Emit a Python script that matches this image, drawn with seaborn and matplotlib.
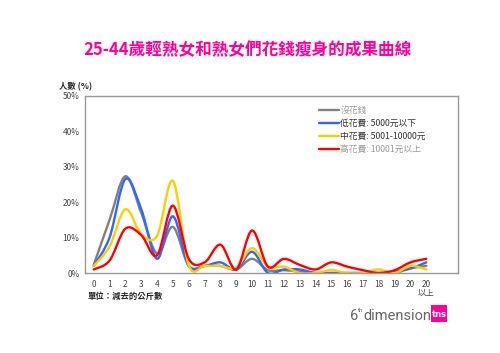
import numpy as np
import pandas as pd
import seaborn as sns
import matplotlib.pyplot as plt
from matplotlib.path import Path
from matplotlib.patches import PathPatch, Rectangle

# categories (kg lost)
categories = [str(i) for i in range(21)] + ['20\n以上']

# percentages
none_spent = [2.3, 15, 27.3, 17, 5.5, 13, 2, 2, 2, 1, 4, 0.8, 0.8, 0.4, 0, 0, 0, 0, 0, 0, 1.3, 2]
low_spent = [2, 10, 26.5, 18, 4, 16, 2, 2, 3, 1, 6, 0, 1, 1, 0, 0, 0, 0, 0, 0.4, 1.3, 3]
mid_spent = [2, 7.5, 18, 11, 10.5, 26, 2.2, 2, 2, 1.5, 7, 1.8, 1.8, 0, 0, 0.8, 0, 0, 1, 0, 2, 1]
high_spent = [1, 3.5, 12.5, 10.7, 5, 19, 4, 3, 8, 1, 12, 1.8, 4, 2.3, 1, 3, 1.8, 0.8, 0, 0.8, 3, 4]

series_names = ['沒花錢', '低花費: 5000元以下', '中花費: 5001-10000元', '高花費: 10001元以上']
series_colors = ['#808080', '#3366FF', '#FFCC00', '#FF0000']

sns.set_style('white')
plt.rcParams['font.family'] = ['Noto Sans CJK TC', 'DejaVu Sans']

df = pd.DataFrame({
    'x': list(range(len(categories))) * 4,
    'value': none_spent + low_spent + mid_spent + high_spent,
    'group': sum([[n] * len(categories) for n in series_names], []),
})

fig = plt.figure(figsize=(5, 3.53), dpi=100)
ax = fig.add_axes([0.17, 0.2266, 0.746, 0.502])

sns.lineplot(data=df, x='x', y='value', hue='group', palette=series_colors,
             hue_order=series_names, linewidth=1.7, ax=ax)


def smooth_path(xs, ys):
    # Catmull-Rom style smoothing drawn as cubic Bezier segments (like Excel smoothed lines)
    pts = np.column_stack([xs, ys]).astype(float)
    verts = [pts[0]]
    codes = [Path.MOVETO]
    n = len(pts)
    for i in range(n - 1):
        p0 = pts[i - 1] if i > 0 else pts[i]
        p1 = pts[i]
        p2 = pts[i + 1]
        p3 = pts[i + 2] if i + 2 < n else pts[i + 1]
        c1 = p1 + (p2 - p0) / 6
        c2 = p2 - (p3 - p1) / 6
        verts += [c1, c2, p2]
        codes += [Path.CURVE4] * 3
    return Path(verts, codes)


# replace the straight segments with smoothed curves in the same colours
for line, color in zip(ax.lines[:4], series_colors):
    xd, yd = line.get_xdata(), line.get_ydata()
    line.set_visible(False)
    ax.add_patch(PathPatch(smooth_path(xd, yd), fill=False, edgecolor=color,
                           linewidth=1.7, capstyle='round', joinstyle='round'))

ax.set_xlim(-0.55, 23)
ax.set_ylim(0, 50)
ax.set_yticks([0, 10, 20, 30, 40, 50])
ax.set_yticklabels([f'{v}%' for v in [0, 10, 20, 30, 40, 50]], fontsize=6, color='#444444')
ax.set_xticks(range(len(categories)))
ax.set_xticklabels(categories, fontsize=6, color='#444444', linespacing=1.0)
ax.set_xticks(np.arange(-0.5, len(categories) + 1, 1), minor=True)
ax.tick_params(axis='x', which='major', length=0, pad=5)
ax.tick_params(axis='x', which='minor', length=3, color='#888888', direction='out')
ax.tick_params(axis='y', length=0, pad=4)
ax.set_xlabel('')
ax.set_ylabel('')
for s in ax.spines.values():
    s.set_visible(True)
    s.set_color('#999999')
    s.set_linewidth(1.0)

leg = ax.legend(loc='upper right', bbox_to_anchor=(0.935, 0.985), frameon=False,
                fontsize=6.3, handlelength=2.3, handletextpad=0.2, labelspacing=0.45)
for t, c in zip(leg.get_texts(), ['#999999', '#333333', '#333333', '#999999']):
    t.set_color(c)
for h in leg.legend_handles:
    h.set_linewidth(1.7)

fig.text(0.496, 0.858, '25-44歲輕熟女和熟女們花錢瘦身的成果曲線', ha='center', va='center',
         fontsize=12, color='#FF0099', fontweight='bold')
fig.text(0.118, 0.755, '人數 (%)', ha='left', va='center', fontsize=6, fontweight='bold')
fig.text(0.175, 0.16, '單位：減去的公斤數', ha='left', va='center', fontsize=6, fontweight='bold')

# logo
fig.text(0.700, 0.105, '6', ha='left', va='center', fontsize=10.5, color='#666666',
         family='Roboto')
fig.text(0.716, 0.12, 'th', ha='left', va='center', fontsize=4.5, color='#666666',
         family='Roboto')
fig.text(0.727, 0.105, 'dimension', ha='left', va='center', fontsize=10.5, color='#666666',
         family='Roboto')
fig.patches.append(Rectangle((0.862, 0.087), 0.032, 0.048, transform=fig.transFigure,
                             facecolor='#FF0099', edgecolor='none'))
fig.text(0.878, 0.11, 'tns', ha='center', va='center', fontsize=6, color='white',
         fontweight='bold', family='DejaVu Sans')

fig.savefig('out.png', dpi=100)
